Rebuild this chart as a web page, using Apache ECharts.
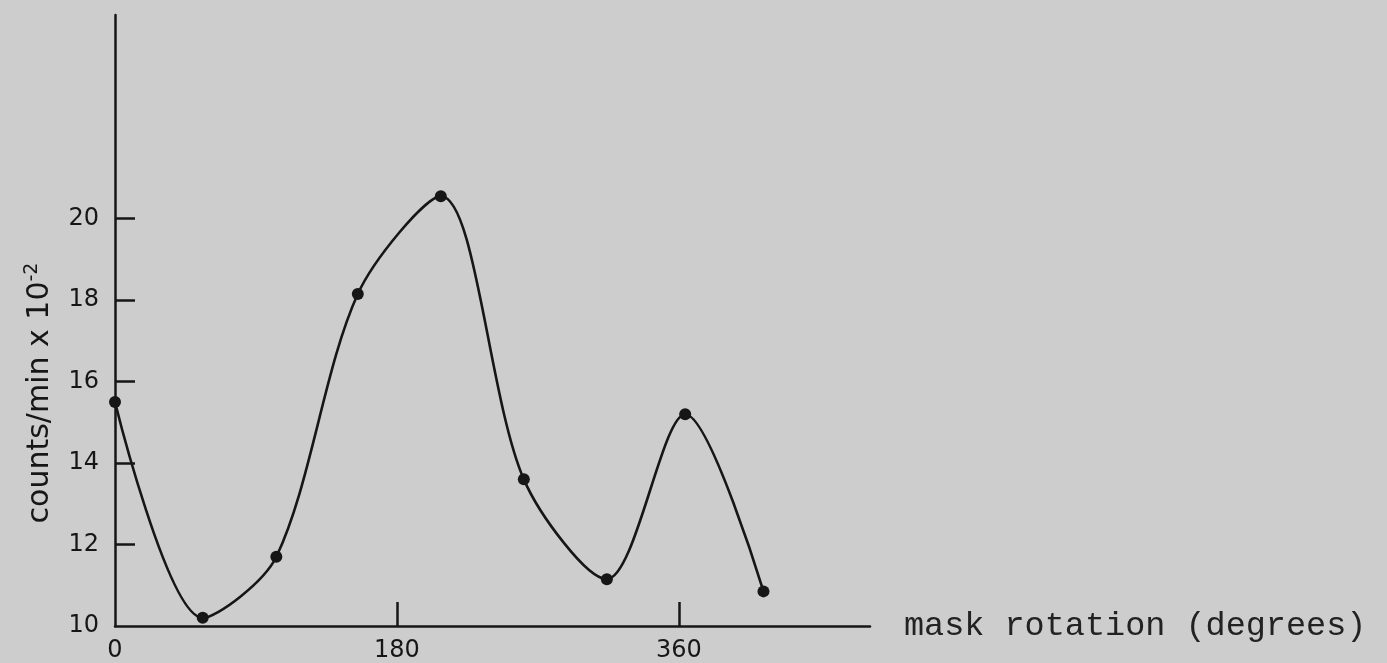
<!DOCTYPE html>
<html>
<head>
<meta charset="utf-8">
<script src="https://cdn.jsdelivr.net/npm/echarts@6/dist/echarts.min.js"></script>
<style>
  html, body { margin: 0; padding: 0; background: #cdcdcd; }
  #chart { width: 1387px; height: 663px; }
</style>
</head>
<body>
<div id="chart"></div>
<script>
// mask rotation (degrees) and counts/min x 10^-2
const rotation = [0, 56, 103, 155, 208, 261, 314, 364, 414]
const counts = [15.5, 10.2, 11.7, 18.15, 20.55, 13.6, 11.15, 15.2, 10.85]
const xTicks = [0, 180, 360]
const yLabels = [10, 12, 14, 16, 18, 20]
const yTicks = [12, 14, 16, 18, 20]

const ink = '#161616'
const myChart = echarts.init(document.getElementById('chart'))

const option = {
  backgroundColor: '#cdcdcd',
  animation: false,
  grid: { left: 115, right: 517, top: 15, bottom: 36 },
  xAxis: {
    type: 'value',
    min: 0,
    max: 482,
    interval: 180,
    splitLine: { show: false },
    axisLine: { show: true, lineStyle: { color: ink, width: 2.5 } },
    axisTick: {
      show: true,
      inside: true,
      length: 24,
      customValues: [180, 360],
      lineStyle: { color: ink, width: 2.5 }
    },
    axisLabel: {
      customValues: xTicks,
      margin: 13,
      color: ink,
      fontSize: 24,
      fontFamily: 'DejaVu Sans'
    },
    name: 'mask rotation (degrees)',
    nameLocation: 'end',
    nameGap: 34,
    nameTextStyle: {
      color: '#222',
      fontSize: 33.5,
      fontFamily: 'Liberation Mono',
      verticalAlign: 'middle',
      padding: [10, 0, 0, 0]
    }
  },
  yAxis: {
    type: 'value',
    min: 10,
    max: 25,
    interval: 1,
    splitLine: { show: false },
    axisLine: { show: true, lineStyle: { color: ink, width: 2.5 } },
    axisTick: {
      show: true,
      inside: true,
      length: 20,
      customValues: yTicks,
      lineStyle: { color: ink, width: 2.5 }
    },
    axisLabel: {
      customValues: yLabels,
      margin: 16,
      color: ink,
      fontSize: 24,
      fontFamily: 'DejaVu Sans'
    }
  },
  graphic: [
    {
      type: 'text',
      x: 40,
      y: 393,
      rotation: Math.PI / 2,
      style: {
        text: '{a|counts/min x 10}{b|-2}',
        align: 'center',
        verticalAlign: 'middle',
        rich: {
          a: { fontSize: 30, fontFamily: 'DejaVu Sans', fill: ink },
          b: { fontSize: 19, fontFamily: 'DejaVu Sans', fill: ink, verticalAlign: 'top', padding: [0, 0, 16, 0] }
        }
      }
    }
  ],
  series: [
    {
      type: 'line',
      data: rotation.map((r, i) => [r, counts[i]]),
      smooth: 0.3,
      symbol: 'circle',
      symbolSize: 12,
      lineStyle: { color: ink, width: 2.6 },
      itemStyle: { color: ink }
    }
  ]
}

myChart.setOption(option)
</script>
</body>
</html>
